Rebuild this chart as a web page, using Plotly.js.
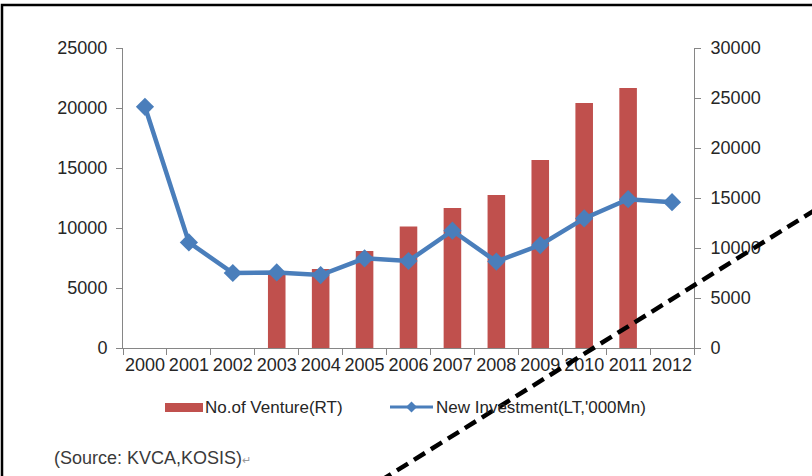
<!DOCTYPE html>
<html>
<head>
<meta charset="utf-8">
<script src="https://cdn.plot.ly/plotly-3.0.1.min.js"></script>
<style>html,body{margin:0;padding:0;background:#fff;}#chart{width:812px;height:476px;}</style>
</head>
<body>
<div id="chart"></div>
<script>
const years = ['2000','2001','2002','2003','2004','2005','2006','2007','2008','2009','2010','2011','2012'];
const ventureYears = ['2003','2004','2005','2006','2007','2008','2009','2010','2011'];
const ventureCount = [7650, 7900, 9700, 12150, 14000, 15300, 18800, 24500, 26000];
const newInvestment = [20100, 8800, 6250, 6300, 6080, 7470, 7250, 9780, 7200, 8580, 10800, 12400, 12150];
const leftTicks = [0, 5000, 10000, 15000, 20000, 25000];
const rightTicks = [0, 5000, 10000, 15000, 20000, 25000, 30000];
const barName = 'No.of Venture(RT)';
const lineName = "New Investment(LT,'000Mn)";
const sourceText = '(Source: KVCA,KOSIS)';

const RED = '#C0504D', BLUE = '#4A7EBB', AXIS = '#868686', TXT = '#262626';
const FONT = 'Liberation Sans, Arial, sans-serif';

// plot area in px: x 123..694, y 48..348
const L = 123, R = 694, T = 48, B = 348;
const px = x => (x - L) / (R - L);
const py = y => (B - y) / (B - T);

const traces = [
  {type: 'bar', x: ventureYears, y: ventureCount, yaxis: 'y', name: barName,
   marker: {color: RED}, hoverinfo: 'x+y'},
  {type: 'scatter', mode: 'lines+markers', x: years, y: newInvestment, yaxis: 'y2', name: lineName,
   line: {color: BLUE, width: 4.5}, marker: {symbol: 'diamond', size: 14, color: BLUE}}
];

const dcx = px(411.5), dcy = py(407), ddx = 5.5/(R-L), ddy = 5.5/(B-T);

const layout = {
  width: 812, height: 476,
  margin: {l: L, r: 812 - R, t: T, b: 476 - B},
  paper_bgcolor: '#fff', plot_bgcolor: '#fff',
  showlegend: false,
  bargap: 0.6,
  font: {family: FONT, size: 18, color: TXT},
  xaxis: {type: 'category', categoryorder: 'array', categoryarray: years,
    range: [-0.5, years.length - 0.5],
    showline: true, linecolor: AXIS, linewidth: 1, ticks: 'outside', tickson: 'boundaries',
    ticklen: 6, tickcolor: AXIS, showgrid: false, zeroline: false, tickangle: 0,
    tickfont: {family: FONT, size: 18, color: TXT}},
  yaxis: {side: 'right', range: [0, 30000], tickvals: rightTicks, ticktext: rightTicks.map(String),
    showline: true, linecolor: AXIS, linewidth: 1, ticks: 'outside', ticklen: 6, tickcolor: AXIS,
    showgrid: false, zeroline: false, ticklabelstandoff: 6,
    tickfont: {family: FONT, size: 18, color: TXT}},
  yaxis2: {side: 'left', overlaying: 'y', range: [0, 25000], tickvals: leftTicks, ticktext: leftTicks.map(String),
    showline: true, linecolor: AXIS, linewidth: 1, ticks: 'outside', ticklen: 6, tickcolor: AXIS,
    showgrid: false, zeroline: false, ticklabelstandoff: 5,
    tickfont: {family: FONT, size: 18, color: TXT}},
  shapes: [
    {type: 'rect', xref: 'paper', yref: 'paper', x0: px(2), x1: px(830), y0: py(490), y1: py(5),
     line: {color: '#000', width: 2.5}, fillcolor: 'rgba(0,0,0,0)', layer: 'above'},
    {type: 'rect', xref: 'paper', yref: 'paper', x0: px(165), x1: px(203), y0: py(412), y1: py(403),
     line: {width: 0}, fillcolor: RED},
    {type: 'line', xref: 'paper', yref: 'paper', x0: px(390), x1: px(433), y0: py(407), y1: py(407),
     line: {color: BLUE, width: 3}},
    {type: 'path', xref: 'paper', yref: 'paper',
     path: `M ${dcx},${dcy + ddy} L ${dcx + ddx},${dcy} L ${dcx},${dcy - ddy} L ${dcx - ddx},${dcy} Z`,
     line: {width: 0}, fillcolor: BLUE},
    {type: 'line', xref: 'paper', yref: 'paper', x0: px(380), y0: py(481), x1: px(820), y1: py(206.9),
     line: {color: '#000', width: 4.5, dash: '13px,7px'}, layer: 'above'}
  ],
  annotations: [
    {xref: 'paper', yref: 'paper', x: px(203), y: py(407), xanchor: 'left', yanchor: 'middle',
     text: barName, showarrow: false, font: {family: FONT, size: 17, color: TXT}},
    {xref: 'paper', yref: 'paper', x: px(434), y: py(407), xanchor: 'left', yanchor: 'middle',
     text: lineName, showarrow: false, font: {family: FONT, size: 17, color: TXT}},
    {xref: 'paper', yref: 'paper', x: px(52), y: py(458), xanchor: 'left', yanchor: 'middle',
     text: sourceText + "<span style='font-size:11px;color:#999999'>↵</span>", showarrow: false,
     font: {family: FONT, size: 18, color: '#3a3a3a'}}
  ]
};

Plotly.newPlot('chart', traces, layout, {displayModeBar: false, staticPlot: true});
</script>
</body>
</html>
